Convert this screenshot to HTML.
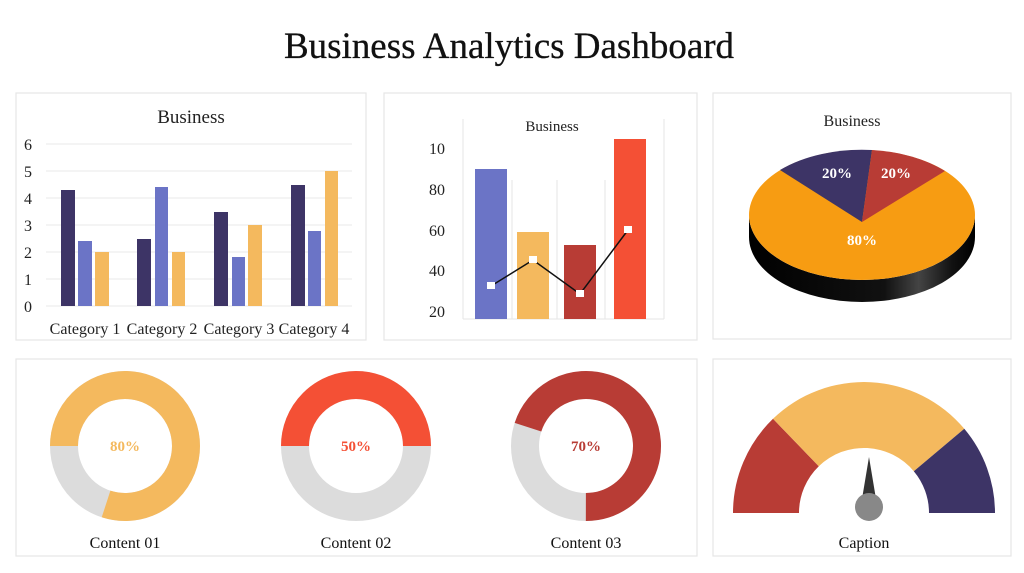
<!DOCTYPE html>
<html><head><meta charset="utf-8"><style>
body{margin:0;background:#fff;}
svg{display:block;font-family:"Liberation Serif",serif;}
</style></head><body>
<svg width="1024" height="573" viewBox="0 0 1024 573" xmlns="http://www.w3.org/2000/svg">
<defs>
<linearGradient id="side" x1="0" x2="1" y1="0" y2="0">
<stop offset="0" stop-color="#000"/><stop offset="0.6" stop-color="#111"/><stop offset="0.75" stop-color="#444"/><stop offset="0.9" stop-color="#111"/><stop offset="1" stop-color="#000"/>
</linearGradient>
</defs>
<text x="509" y="58" font-size="37" text-anchor="middle" fill="#111" stroke="#111" stroke-width="0.3">Business Analytics Dashboard</text>
<g fill="none" stroke="#e6e6e6" stroke-width="1.2">
<rect x="16" y="93" width="350" height="247"/>
<rect x="384" y="93" width="313" height="247"/>
<rect x="713" y="93" width="298" height="246"/>
<rect x="16" y="359" width="681" height="197"/>
<rect x="713" y="359" width="298" height="197"/>
</g>
<!-- Chart 1 -->
<text x="191" y="123" font-size="19" text-anchor="middle" fill="#222">Business</text>
<g stroke="#e8e8e8" stroke-width="1">
<line x1="46" x2="352" y1="144" y2="144"/><line x1="46" x2="352" y1="171" y2="171"/><line x1="46" x2="352" y1="198" y2="198"/><line x1="46" x2="352" y1="225" y2="225"/><line x1="46" x2="352" y1="252" y2="252"/><line x1="46" x2="352" y1="279" y2="279"/><line x1="46" x2="352" y1="306" y2="306"/>
</g>
<g font-size="16" fill="#222" text-anchor="middle">
<text x="28" y="150">6</text><text x="28" y="177">5</text><text x="28" y="204">4</text><text x="28" y="231">3</text><text x="28" y="258">2</text><text x="28" y="285">1</text><text x="28" y="312">0</text>
</g>
<g fill="#3d3466"><rect x="61" y="190" width="14" height="116"/><rect x="137" y="239" width="14" height="67"/><rect x="214" y="212" width="14" height="94"/><rect x="291" y="185" width="14" height="121"/></g>
<g fill="#6b74c6"><rect x="78" y="241" width="14" height="65"/><rect x="155" y="187" width="13" height="119"/><rect x="232" y="257" width="13" height="49"/><rect x="308" y="231" width="13" height="75"/></g>
<g fill="#f4b95e"><rect x="95" y="252" width="14" height="54"/><rect x="172" y="252" width="13" height="54"/><rect x="248" y="225" width="14" height="81"/><rect x="325" y="171" width="13" height="135"/></g>
<g font-size="16" fill="#222" text-anchor="middle">
<text x="85" y="334">Category 1</text><text x="162" y="334">Category 2</text><text x="239" y="334">Category 3</text><text x="314" y="334">Category 4</text>
</g>
<!-- Chart 2 -->
<text x="552" y="131" font-size="15" text-anchor="middle" fill="#222">Business</text>
<g stroke="#e6e6e6" stroke-width="1"><line x1="463" x2="463" y1="119" y2="319"/><line x1="463" x2="664" y1="319" y2="319"/><line x1="512" x2="512" y1="180" y2="319"/><line x1="557" x2="557" y1="180" y2="319"/><line x1="605" x2="605" y1="180" y2="319"/><line x1="664" x2="664" y1="119" y2="319"/></g>
<g font-size="16" fill="#222" text-anchor="middle">
<text x="437" y="154">10</text><text x="437" y="195">80</text><text x="437" y="236">60</text><text x="437" y="276">40</text><text x="437" y="317">20</text>
</g>
<rect x="475" y="169" width="32" height="150" fill="#6b74c6"/>
<rect x="517" y="232" width="32" height="87" fill="#f4b95e"/>
<rect x="564" y="245" width="32" height="74" fill="#b83c35"/>
<rect x="614" y="139" width="32" height="180" fill="#f45035"/>
<polyline points="491,286 533,260 580,294 628,230" fill="none" stroke="#111" stroke-width="1.5"/>
<g fill="#fff"><rect x="487" y="282" width="8" height="7"/><rect x="529" y="256" width="8" height="7"/><rect x="576" y="290" width="8" height="7"/><rect x="624" y="226" width="8" height="7"/></g>
<!-- Pie -->
<text x="852" y="126" font-size="16" text-anchor="middle" fill="#222">Business</text>
<path d="M749,215 A113,65 0 0 0 975,215 L975,237 A113,65 0 0 1 749,237 Z" fill="url(#side)"/>
<ellipse cx="862" cy="215" rx="113" ry="65" fill="#f79c12"/>
<path d="M862,222 L780,170 A113,65 0 0 1 872,150 Z" fill="#3d3466"/>
<path d="M862,222 L872,150 A113,65 0 0 1 945,171 Z" fill="#b83c35"/>
<g font-size="15" font-weight="bold" fill="#fff" text-anchor="middle">
<text x="837" y="178">20%</text><text x="896" y="178">20%</text><text x="862" y="245">80%</text>
</g>
<!-- Donuts -->
<g fill="none" stroke-width="28">
<circle cx="125" cy="446" r="61" stroke="#dcdcdc"/>
<circle cx="125" cy="446" r="61" stroke="#f4b95e" stroke-dasharray="306.6 400" transform="rotate(180 125 446)"/>
<circle cx="356" cy="446" r="61" stroke="#dcdcdc"/>
<circle cx="356" cy="446" r="61" stroke="#f45035" stroke-dasharray="191.6 400" transform="rotate(180 356 446)"/>
<circle cx="586" cy="446" r="61" stroke="#dcdcdc"/>
<circle cx="586" cy="446" r="61" stroke="#b83c35" stroke-dasharray="268.3 400" transform="rotate(198 586 446)"/>
</g>
<g font-size="15" font-weight="bold" text-anchor="middle">
<text x="125" y="451" fill="#f4b95e">80%</text><text x="356" y="451" fill="#f45035">50%</text><text x="586" y="451" fill="#b83c35">70%</text>
</g>
<g font-size="16" fill="#111" text-anchor="middle">
<text x="125" y="548">Content 01</text><text x="356" y="548">Content 02</text><text x="586" y="548">Content 03</text><text x="864" y="548">Caption</text>
</g>
<!-- Gauge -->
<path d="M733,513 A131,131 0 0 1 773,418.8 L818.8,466.2 A65,65 0 0 0 799,513 Z" fill="#b83c35"/>
<path d="M773,418.8 A131,131 0 0 1 964.3,428.8 L913.8,471.2 A65,65 0 0 0 818.8,466.2 Z" fill="#f4b95e"/>
<path d="M964.3,428.8 A131,131 0 0 1 995,513 L929,513 A65,65 0 0 0 913.8,471.2 Z" fill="#3d3466"/>
<polygon points="869,457 861,505 877,505" fill="#333"/>
<circle cx="869" cy="507" r="14" fill="#888"/>
</svg>
</body></html>
